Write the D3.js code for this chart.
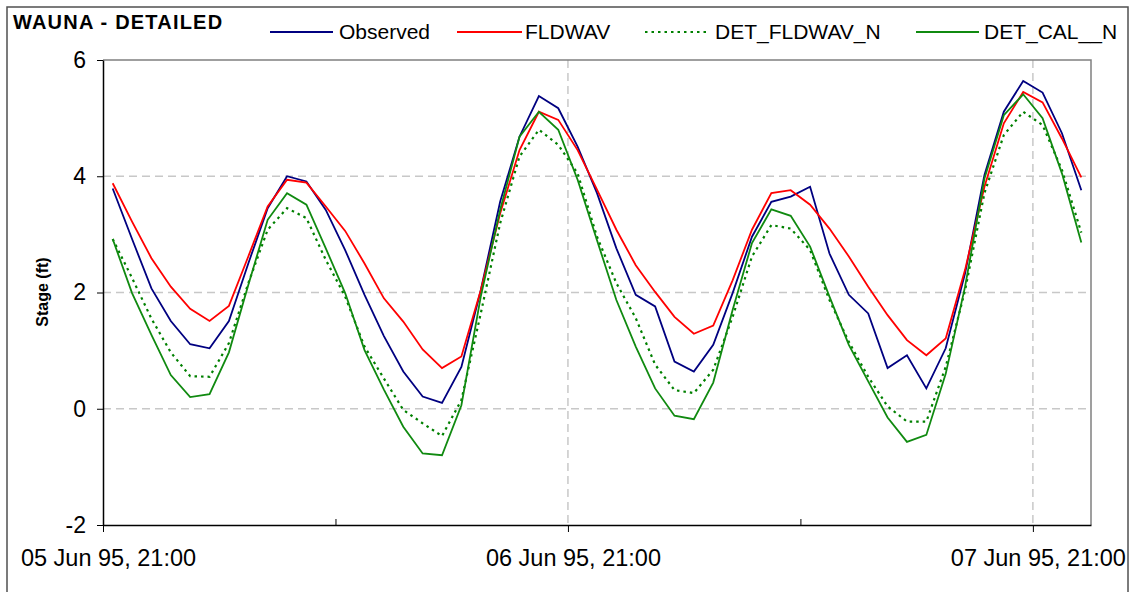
<!DOCTYPE html>
<html>
<head>
<meta charset="utf-8">
<script src="https://cdn.jsdelivr.net/npm/d3@7"></script>
<style>
  html, body { margin: 0; padding: 0; background: #ffffff; }
  svg { display: block; font-family: "Liberation Sans", Arial, sans-serif; }
</style>
</head>
<body>
<svg id="chart" width="1130" height="592"></svg>
<script>
// Hourly stage readings at Wauna; the time axis opens at 05 Jun 1995 21:00
const startTime = "1995-06-05T21:00:00Z";
const axisEnd = "1995-06-08T00:00:00Z";

const observed = [
  3.79, 2.92, 2.07, 1.51, 1.11, 1.04, 1.51, 2.50, 3.45, 4.00,
  3.91, 3.42, 2.73, 1.96, 1.25, 0.64, 0.21, 0.10, 0.72, 2.04,
  3.56, 4.68, 5.38, 5.17, 4.51, 3.71, 2.76, 1.96, 1.76, 0.81,
  0.64, 1.10, 1.99, 2.96, 3.56, 3.65, 3.82, 2.67, 1.96, 1.64,
  0.70, 0.92, 0.35, 1.04, 2.33, 4.02, 5.11, 5.64, 5.44, 4.74,
  3.76
];
const fldwav = [
  3.88, 3.22, 2.59, 2.10, 1.72, 1.51, 1.77, 2.62, 3.48, 3.94,
  3.89, 3.48, 3.06, 2.50, 1.90, 1.50, 1.02, 0.70, 0.90, 2.04,
  3.36, 4.45, 5.11, 4.97, 4.45, 3.77, 3.08, 2.47, 2.01, 1.58,
  1.29, 1.43, 2.21, 3.08, 3.71, 3.76, 3.51, 3.10, 2.62, 2.10,
  1.61, 1.18, 0.92, 1.21, 2.39, 3.82, 4.91, 5.45, 5.27, 4.65,
  3.98
];
const detFldwavN = [
  2.92, 2.25, 1.55, 0.97, 0.56, 0.55, 1.13, 2.16, 3.08, 3.45,
  3.28, 2.56, 1.93, 1.07, 0.52, -0.02, -0.25, -0.47, 0.15, 1.64,
  3.19, 4.34, 4.80, 4.54, 4.05, 2.96, 2.16, 1.56, 0.76, 0.32,
  0.27, 0.67, 1.58, 2.62, 3.16, 3.10, 2.73, 1.87, 1.15, 0.55,
  0.04, -0.22, -0.22, 0.72, 2.04, 3.71, 4.71, 5.11, 4.88, 4.11,
  3.03
];
const detCalN = [
  2.92, 1.99, 1.27, 0.58, 0.20, 0.25, 0.97, 2.13, 3.25, 3.71,
  3.51, 2.76, 1.99, 1.01, 0.33, -0.31, -0.77, -0.80, 0.06, 1.93,
  3.42, 4.68, 5.11, 4.80, 3.94, 2.90, 1.87, 1.07, 0.35, -0.12,
  -0.18, 0.45, 1.70, 2.85, 3.43, 3.32, 2.79, 1.93, 1.10, 0.47,
  -0.15, -0.57, -0.45, 0.60, 2.10, 3.96, 5.05, 5.41, 5.00, 4.05,
  2.86
];

const seriesNames = ["Observed", "FLDWAV", "DET_FLDWAV_N", "DET_CAL__N"];
const yTicks = [-2, 0, 2, 4, 6];
const xTickHours = [0, 12, 24, 36, 48];   // hours after the axis start
const chartTitle = "WAUNA - DETAILED";
const yLabel = "Stage (ft)";

const series = [
  { name: seriesNames[0], values: observed,   color: "#000080", dash: null },
  { name: seriesNames[1], values: fldwav,     color: "#ff0000", dash: null },
  { name: seriesNames[2], values: detFldwavN, color: "#008000", dash: "2.5,4" },
  { name: seriesNames[3], values: detCalN,    color: "#108a10", dash: null }
];

const svg = d3.select("#chart");
const plot = { left: 103, right: 1091, top: 60, bottom: 525 };
const HOUR = 3600e3;

const t0 = new Date(startTime);
const t1 = new Date(axisEnd);
// each reading sits in the middle of its hour slot
const times = observed.map((_, i) => new Date(t0.getTime() + (i + 0.5) * HOUR));

const x = d3.scaleUtc().domain([t0, t1]).range([plot.left, plot.right]);
const y = d3.scaleLinear().domain([-2, 6]).range([plot.bottom, plot.top]);

const xTicks = xTickHours.map(h => new Date(t0.getTime() + h * HOUR));
const isMajor = d => ((d - t0) / HOUR) % 24 === 0;

// outer frame
svg.append("rect")
  .attr("x", 7).attr("y", 7).attr("width", 1121).attr("height", 600)
  .attr("fill", "none").attr("stroke", "#505050").attr("stroke-width", 1.5);

// gridlines
svg.append("g").selectAll("line")
  .data(yTicks.filter(v => v > -2 && v < 6))
  .join("line")
  .attr("x1", plot.left).attr("x2", plot.right)
  .attr("y1", d => y(d)).attr("y2", d => y(d))
  .attr("stroke", "#c8c8c8").attr("stroke-width", 1.5)
  .attr("stroke-dasharray", "8,5");

svg.append("g").selectAll("line")
  .data(xTicks.filter(d => isMajor(d) && +d !== +t0))
  .join("line")
  .attr("x1", d => x(d)).attr("x2", d => x(d))
  .attr("y1", plot.top).attr("y2", plot.bottom)
  .attr("stroke", "#c8c8c8").attr("stroke-width", 1.5)
  .attr("stroke-dasharray", "8,5");

// plot frame (top and right)
svg.append("path")
  .attr("d", `M${plot.left},${plot.top}H${plot.right}V${plot.bottom}`)
  .attr("fill", "none").attr("stroke", "#808080").attr("stroke-width", 1.5);

// series lines
const line = d3.line()
  .x((d, i) => x(times[i]))
  .y(d => y(d));

svg.append("g").selectAll("path")
  .data(series)
  .join("path")
  .attr("d", s => line(s.values))
  .attr("fill", "none")
  .attr("stroke", s => s.color)
  .attr("stroke-width", s => s.dash ? 2.2 : 1.8)
  .attr("stroke-dasharray", s => s.dash)
  .attr("stroke-linejoin", "miter");

// y axis
const yAxis = svg.append("g")
  .attr("transform", `translate(${plot.left},0)`)
  .call(d3.axisLeft(y).tickValues(yTicks).tickSizeInner(6).tickSizeOuter(0).tickPadding(11)
    .tickFormat(d => String(d)));
yAxis.select(".domain").attr("stroke", "#000").attr("stroke-width", 1.5);
yAxis.selectAll(".tick line").attr("stroke", "#000");
yAxis.selectAll("text")
  .attr("font-size", 23).attr("fill", "#000")
  .attr("font-family", "Liberation Sans, Arial, sans-serif");

// x axis
const fmt = d3.utcFormat("%d %b %y, %H:%M");
const xAxis = svg.append("g")
  .attr("transform", `translate(0,${plot.bottom})`)
  .call(d3.axisBottom(x).tickValues(xTicks).tickSizeOuter(0)
    .tickFormat(d => (isMajor(d) ? fmt(d) : "")));
xAxis.select(".domain").attr("stroke", "#000").attr("stroke-width", 1.5);
xAxis.selectAll(".tick line")
  .attr("stroke", "#000")
  .attr("y2", d => (isMajor(d) ? 7 : -6));
xAxis.selectAll("text")
  .attr("font-size", 23.5).attr("fill", "#000")
  .attr("font-family", "Liberation Sans, Arial, sans-serif")
  .attr("dy", null).attr("y", 41).attr("dx", 5);

// y axis title
svg.append("text")
  .attr("transform", "translate(48,292) rotate(-90)")
  .attr("text-anchor", "middle")
  .attr("font-size", 16).attr("font-weight", "bold")
  .text(yLabel);

// chart title
svg.append("text")
  .attr("x", 13).attr("y", 29)
  .attr("font-size", 20).attr("font-weight", "bold")
  .attr("letter-spacing", 1.2)
  .text(chartTitle);

// legend
const legendItems = [
  { s: series[0], x1: 270, x2: 333, tx: 339 },
  { s: series[1], x1: 457, x2: 522, tx: 525 },
  { s: series[2], x1: 645, x2: 709, tx: 715 },
  { s: series[3], x1: 916, x2: 979, tx: 984 }
];
const lg = svg.append("g");
lg.selectAll("line")
  .data(legendItems)
  .join("line")
  .attr("x1", d => d.x1).attr("x2", d => d.x2)
  .attr("y1", 32).attr("y2", 32)
  .attr("stroke", d => d.s.color)
  .attr("stroke-width", d => d.s.dash ? 2.2 : 1.8)
  .attr("stroke-dasharray", d => d.s.dash);
lg.selectAll("text")
  .data(legendItems)
  .join("text")
  .attr("x", d => d.tx).attr("y", 39)
  .attr("font-size", 21)
  .text(d => d.s.name);
</script>
</body>
</html>
